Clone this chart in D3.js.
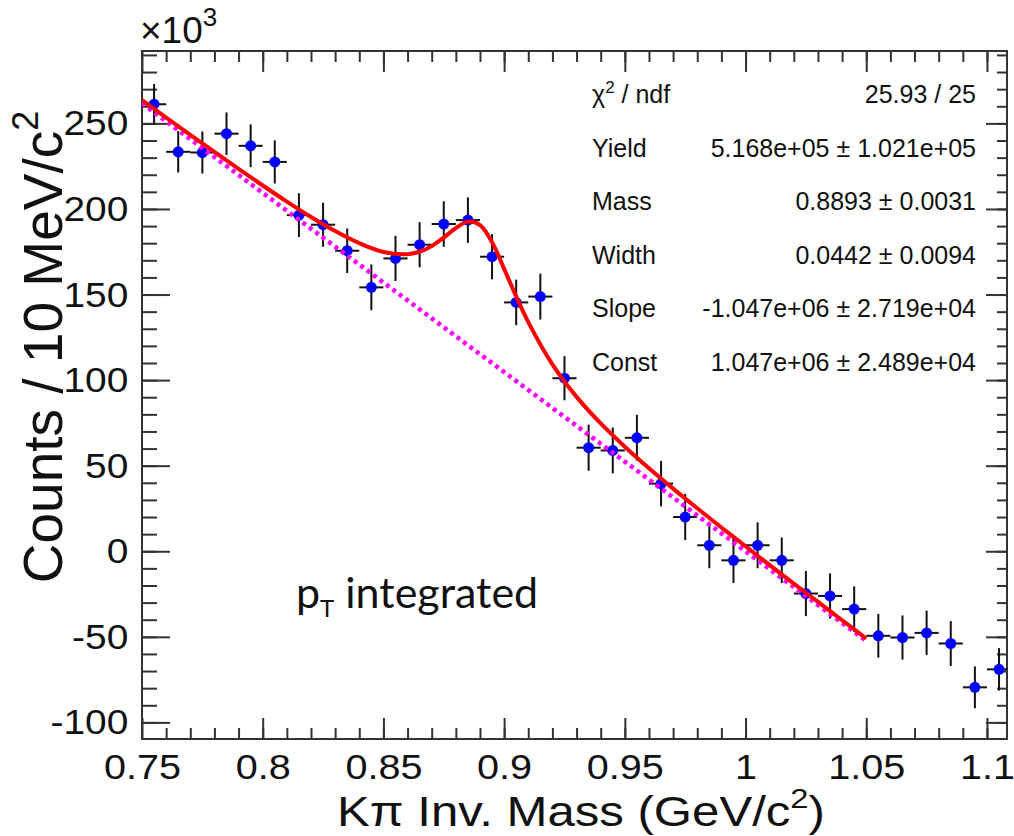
<!DOCTYPE html>
<html><head><meta charset="utf-8">
<script src="https://cdn.jsdelivr.net/npm/d3@7"></script>
<style>
html,body{margin:0;padding:0;background:#fff;}
svg{display:block;}
text{font-family:"Liberation Sans",Arial,Helvetica,sans-serif;fill:#111;}
</style></head><body>
<svg id="c" width="1014" height="836"></svg>
<script>
// ---- data (counts in units of 10^3) ----
const binCenters = [0.755,0.765,0.775,0.785,0.795,0.805,0.815,0.825,0.835,0.845,0.855,0.865,0.875,0.885,0.895,0.905,0.915,0.925,0.935,0.945,0.955,0.965,0.975,0.985,0.995,1.005,1.015,1.025,1.035,1.045,1.055,1.065,1.075,1.085,1.095,1.105];
const counts = [261.2,233.4,233.0,244.0,236.9,227.5,196.4,190.8,175.6,154.2,171.1,179.1,191.2,193.5,172.1,145.4,148.8,101.1,60.5,58.9,66.3,39.5,20.0,3.5,-5.3,3.5,-5.3,-24.7,-26.1,-33.8,-49.4,-50.4,-47.7,-53.9,-79.5,-69.0];
const errors = [11.8,12.1,12.3,12.4,12.5,12.6,12.8,12.9,13.0,13.4,13.2,13.2,13.3,13.3,13.2,13.3,13.4,12.9,13.5,13.4,13.4,13.3,13.5,13.4,13.3,13.4,13.3,13.2,13.2,13.3,12.8,12.9,13.0,13.1,12.2,12.4];
const binHalfWidth = 0.005;

const fitX = [0.75,0.76,0.77,0.78,0.79,0.80,0.81,0.82,0.83,0.84,0.85,0.86,0.865,0.87,0.875,0.88,0.885,0.89,0.895,0.90,0.905,0.91,0.92,0.93,0.94,0.95,0.96,0.97,0.98,0.99,1.00,1.01,1.02,1.03,1.04,1.05];
const fitY = [263.6,253.4,243.3,233.3,223.4,213.7,204.3,195.3,187.1,180.0,174.9,173.6,175.0,178.3,183.3,188.8,192.6,190.5,180.5,165.0,148.9,133.9,109.2,90.2,74.7,61.1,48.5,36.6,25.1,13.9,2.9,-8.1,-18.9,-29.6,-40.3,-51.0];

const bgX = [0.75, 1.05];
const bgY = [261.75, -52.35];

const xTicks = [0.75,0.8,0.85,0.9,0.95,1,1.05,1.1];
const xTickLabels = ["0.75","0.8","0.85","0.9","0.95","1","1.05","1.1"];
const yTicks = [-100,-50,0,50,100,150,200,250];
const yTickLabels = ["-100","-50","0","50","100","150","200","250"];

const statLabels = ["χ", "Yield", "Mass", "Width", "Slope", "Const"];
const statValues = ["25.93 / 25","5.168e+05 ± 1.021e+05","0.8893 ± 0.0031","0.0442 ± 0.0094","-1.047e+06 ± 2.719e+04","1.047e+06 ± 2.489e+04"];

// ---- layout ----
const L = 142, R = 1007, T = 51, B = 739;
const xDomain = [0.75, 1.1083];
const yDomain = [-109.7, 292.3];

const svg = d3.select("#c");
svg.append("rect").attr("width",1014).attr("height",836).attr("fill","#fff");

const x = d3.scaleLinear().domain(xDomain).range([L, R]);
const y = d3.scaleLinear().domain(yDomain).range([B, T]);

const xMinor = d3.range(76, 111).map(i => i/100);
const yMinor = d3.range(-100, 291, 10);

function styleAxis(g){
  g.attr("font-size", null).attr("font-family", null);
  g.select(".domain").remove();
  g.selectAll(".tick line").attr("stroke","#333").attr("stroke-width",2);
}

// bottom
svg.append("g").attr("transform",`translate(0,${B})`)
  .call(d3.axisBottom(x).tickValues(xMinor).tickSize(-11).tickFormat(""))
  .call(styleAxis);
const gxb = svg.append("g").attr("transform",`translate(0,${B})`)
  .call(d3.axisBottom(x).tickValues(xTicks).tickSize(-21).tickPadding(14)
        .tickFormat((d,i) => xTickLabels[i]))
  .call(styleAxis);
gxb.selectAll("text").attr("font-size",36).attr("fill","#111").attr("transform","scale(1.1,1)");
// top
svg.append("g").attr("transform",`translate(0,${T})`)
  .call(d3.axisTop(x).tickValues(xMinor).tickSize(-11).tickFormat(""))
  .call(styleAxis);
svg.append("g").attr("transform",`translate(0,${T})`)
  .call(d3.axisTop(x).tickValues(xTicks).tickSize(-21).tickFormat(""))
  .call(styleAxis);
// left
svg.append("g").attr("transform",`translate(${L},0)`)
  .call(d3.axisLeft(y).tickValues(yMinor).tickSize(-15).tickFormat(""))
  .call(styleAxis);
const gyl = svg.append("g").attr("transform",`translate(${L},0)`)
  .call(d3.axisLeft(y).tickValues(yTicks).tickSize(-28).tickPadding(12.7)
        .tickFormat((d,i) => yTickLabels[i]))
  .call(styleAxis);
gyl.selectAll("text").attr("font-size",36).attr("fill","#111").attr("transform","scale(1.08,1)");
// right
svg.append("g").attr("transform",`translate(${R},0)`)
  .call(d3.axisRight(y).tickValues(yMinor).tickSize(-10).tickFormat(""))
  .call(styleAxis);
svg.append("g").attr("transform",`translate(${R},0)`)
  .call(d3.axisRight(y).tickValues(yTicks).tickSize(-21).tickFormat(""))
  .call(styleAxis);

// frame
svg.append("rect").attr("x",L).attr("y",T).attr("width",R-L).attr("height",B-T)
  .attr("fill","none").attr("stroke","#333").attr("stroke-width",2);

// clip
svg.append("clipPath").attr("id","clip").append("rect")
  .attr("x",L).attr("y",T).attr("width",R-L).attr("height",B-T);
const plot = svg.append("g").attr("clip-path","url(#clip)");

const pts = binCenters.map((c,i) => ({x:c, y:counts[i], e:errors[i]}));

// error bars
plot.append("g").selectAll("line.v").data(pts).join("line")
  .attr("x1",d=>x(d.x)).attr("x2",d=>x(d.x))
  .attr("y1",d=>y(d.y+d.e)).attr("y2",d=>y(d.y-d.e))
  .attr("stroke","#111").attr("stroke-width",2);
plot.append("g").selectAll("line.h").data(pts).join("line")
  .attr("x1",d=>x(d.x-binHalfWidth)).attr("x2",d=>x(d.x+binHalfWidth))
  .attr("y1",d=>y(d.y)).attr("y2",d=>y(d.y))
  .attr("stroke","#111").attr("stroke-width",2);
// markers
plot.append("g").selectAll("circle").data(pts).join("circle")
  .attr("cx",d=>x(d.x)).attr("cy",d=>y(d.y)).attr("r",5.5)
  .attr("fill","#0000ff");

// background line (dotted magenta)
const bgPts = bgX.map((v,i)=>[v,bgY[i]]);
plot.append("path").datum(bgPts)
  .attr("d", d3.line().x(d=>x(d[0])).y(d=>y(d[1])))
  .attr("fill","none").attr("stroke","#ff00ff").attr("stroke-width",4.5)
  .attr("stroke-dasharray","4,4");

// fit curve
const fitPts = fitX.map((v,i)=>[v,fitY[i]]);
plot.append("path").datum(fitPts)
  .attr("d", d3.line().curve(d3.curveCatmullRom.alpha(0.5)).x(d=>x(d[0])).y(d=>y(d[1])))
  .attr("fill","none").attr("stroke","#ff0000").attr("stroke-width",4)
  .attr("stroke-linejoin","round");

// stats text
const statY = d3.scaleLinear().domain([0,5]).range([103, 371]);
statLabels.forEach((s,i) => {
  const t = svg.append("text").attr("x",592).attr("y",statY(i)).attr("font-size",25).attr("fill","#222");
  if (i === 0) {
    t.text("χ");
    t.append("tspan").attr("font-size",17).attr("dy",-10).text("2");
    t.append("tspan").attr("dy",10).text(" / ndf");
  } else t.text(s);
});
statValues.forEach((s,i) => {
  svg.append("text").attr("x",976).attr("y",statY(i)).attr("text-anchor","end")
    .attr("font-size",25).attr("fill","#222").text(s);
});

// x10^3
const ex = svg.append("text").attr("x",140).attr("y",43).attr("font-size",37);
ex.text("×10");
ex.append("tspan").attr("font-size",26).attr("dy",-17).text("3");

// y title
const yt = svg.append("text").attr("transform","translate(62,347) rotate(-90)")
  .attr("text-anchor","middle").attr("font-size",55);
yt.text("Counts / 10 MeV/c");
yt.append("tspan").attr("font-size",36).attr("dy",-24).text("2");

// x title
const xt = svg.append("g").attr("transform","translate(581,826) scale(1.17,1)")
  .append("text").attr("text-anchor","middle").attr("font-size",42);
xt.text("Kπ Inv. Mass (GeV/c");
xt.append("tspan").attr("font-size",28).attr("dy",-18).text("2");
xt.append("tspan").attr("dy",18).text(")");

// pT integrated
const pt = svg.append("text").attr("x",296).attr("y",608)
  .attr("font-size",43).style("font-family","Lato, 'Open Sans', sans-serif");
pt.text("p");
pt.append("tspan").attr("font-size",24).attr("dy",9).text("T");
pt.append("tspan").attr("dy",-9).text(" integrated");
</script>
</body></html>
